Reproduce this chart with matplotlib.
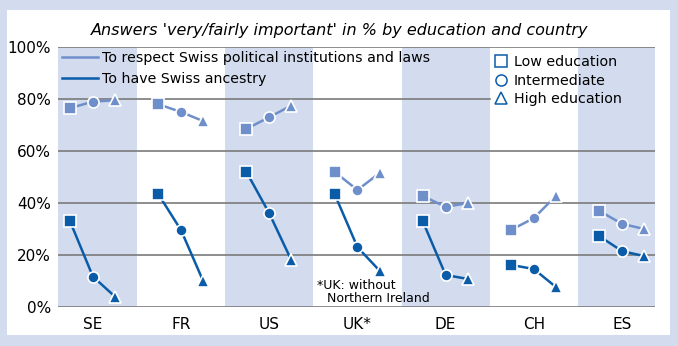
import matplotlib
matplotlib.use('Agg')
import matplotlib.pyplot as plt
from matplotlib.lines import Line2D
from matplotlib.patches import Rectangle

countries = ['SE', 'FR', 'US', 'UK*', 'DE', 'CH', 'ES']
# low, intermediate, high education
respect = [[76.5, 79, 79.5], [78, 75, 71.5], [68.5, 73, 77.5], [52, 45, 51.5],
           [42.7, 38.5, 40], [29.6, 34.2, 42.7], [37, 32, 30]]
ancestry = [[33, 11.7, 4], [43.5, 29.5, 10], [52, 36, 18], [43.5, 23, 14],
            [33, 12.3, 10.8], [16.2, 14.6, 7.7], [27.3, 21.5, 19.6]]
edu_labels = ['Low education', 'Intermediate', 'High education']
series_labels = ['To respect Swiss political institutions and laws', 'To have Swiss ancestry']

bg = '#d3dcee'
light = '#6f8fcb'
dark = '#0a5ca8'
markers = ['s', 'o', '^']
offs = [-0.26, 0, 0.25]

plt.rcParams['font.family'] = 'DejaVu Sans'
W, H = 678, 346
fig = plt.figure(figsize=(W / 100, H / 100), dpi=100)
fig.patch.set_facecolor(bg)
fig.patches.append(Rectangle((7 / W, 1 - 335 / H), 663 / W, 325 / H, transform=fig.transFigure,
                             facecolor='white', edgecolor='none', zorder=-10))

ax = fig.add_axes([58 / W, 1 - 307 / H, 597 / W, 260 / H])
ax.set_facecolor('none')
ax.set_xlim(-0.396, 6.374)
ax.set_ylim(0, 100)

for i in range(len(countries)):
    if i % 2 == 0:
        ax.axvspan(i - 0.5, i + 0.5, color=bg, lw=0, zorder=0)

for y in [0, 20, 40, 60, 100]:
    ax.axhline(y, color='#7a7a7a', lw=1.2, zorder=1)
ax.axhline(80, xmax=(490 - 58) / 597, color='#7a7a7a', lw=1.2, zorder=1)

for i in range(len(countries)):
    for vals, col in [(respect[i], light), (ancestry[i], dark)]:
        xs = [i + o for o in offs]
        ax.plot(xs, vals, color=col, lw=1.8, zorder=3)
        for x, v, m in zip(xs, vals, markers):
            ax.plot(x, v, marker=m, ms=8.5 if m == '^' else 8, color=col, mec='white', mew=1.2, zorder=4)

for s in ax.spines.values():
    s.set_visible(False)
ax.set_xticks(range(len(countries)))
ax.set_xticklabels(countries, fontsize=11)
ax.set_yticks([0, 20, 40, 60, 80, 100])
ax.set_yticklabels([f'{v}%' for v in [0, 20, 40, 60, 80, 100]], fontsize=11)
ax.tick_params(length=0, pad=5)
ax.tick_params(axis='x', pad=7)

h1 = [Line2D([], [], color=light, lw=1.8), Line2D([], [], color=dark, lw=1.8)]
leg1 = ax.legend(h1, series_labels, loc='upper left', bbox_to_anchor=(-0.002, 1.005), frameon=False,
                 fontsize=10.2, handlelength=2.5, handletextpad=0.3, labelspacing=0.45, borderaxespad=0)
ax.add_artist(leg1)
h2 = [Line2D([], [], ls='none', marker=m, mfc='none', mec=dark, ms=8, mew=1.1) for m in markers]
ax.legend(h2, edu_labels, loc='upper left', bbox_to_anchor=(0.723, 0.99), frameon=False,
          fontsize=10.3, handlelength=0.8, handletextpad=0.5, labelspacing=0.3, borderaxespad=0)

ax.text(2.537, 7, '*UK: without', fontsize=9, ha='left', va='baseline', zorder=5)
ax.text(2.65, 2, 'Northern Ireland', fontsize=9, ha='left', va='baseline', zorder=5)

fig.text(340 / W, 1 - 30 / H, "Answers 'very/fairly important' in % by education and country",
         ha='center', va='center', fontsize=11.5, style='italic')

fig.savefig('out.png', dpi=100, facecolor=fig.get_facecolor())
